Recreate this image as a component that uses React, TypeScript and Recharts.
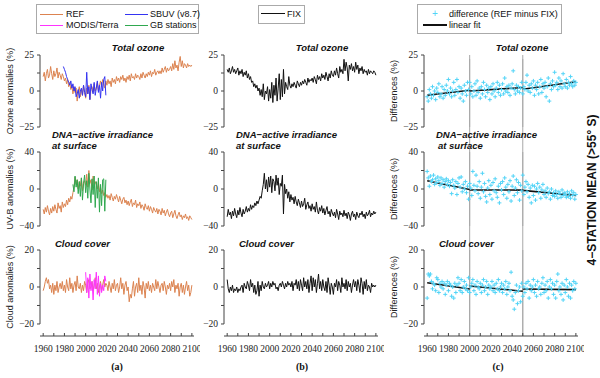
import React from "react";
import { ComposedChart, Line, Scatter, XAxis, YAxis, ReferenceLine } from "recharts";

const FIRST_YEAR = 1960;
const X_DOMAIN: [number, number] = [1957, 2102];
const X_TICKS = [1960, 1970, 1980, 1990, 2000, 2010, 2020, 2030, 2040, 2050, 2060, 2070, 2080, 2090, 2100];
const X_LABELED = [1960, 1980, 2000, 2020, 2040, 2060, 2080, 2100];
const PERIOD_LINES = [2000, 2050];

// yearly values 1960..2100 (one row per decade)
const refOzone = [
  10, 13, 7, 12, 15, 9, 11, 17, 12, 8,
  14, 10, 12, 16, 9, 13, 11, 8, 12, 10,
  7, 9, 5, 8, 3, 6, 1, 4, -2, 3,
  -1, 2, -7, 0, 3, -4, 1, -3, 4, -1,
  -5, 2, -2, 4, -6, 1, 3, -1, 5, 0,
  2, 6, 0, 4, 7, 3, 8, 5, 2, 7,
  4, 8, 5, 7, 3, 9, 6, 8, 5, 10,
  7, 9, 6, 10, 8, 11, 7, 9, 6, 10,
  8, 11, 7, 12, 9, 10, 8, 12, 9, 11,
  10, 8, 12, 9, 13, 11, 9, 12, 10, 13,
  11, 14, 10, 13, 12, 15, 11, 13, 14, 12,
  14, 12, 16, 13, 15, 17, 13, 16, 14, 15,
  17, 14, 19, 15, 21, 16, 18, 14, 20, 24,
  17, 21, 16, 19, 18, 16, 19, 17, 18, 17, 18,
];
const fixOzone = [
  15, 13, 16, 12, 14, 17, 13, 15, 12, 14,
  16, 11, 14, 12, 15, 10, 13, 11, 14, 9,
  12, 8, 10, 6, 7, 3, 5, 2, 4, 0,
  2, -3, 1, -4, 5, -6, 0, -2, 3, -7,
  1, -5, 6, -8, 4, -3, 9, -7, 2, 12,
  -6, 8, -4, 15, -2, 6, 3, 1, 10, 4,
  2, 5, 3, 6, 4, 2, 7, 5, 3, 6,
  4, 7, 5, 8, 6, 4, 9, 6, 8, 7,
  9, 6, 10, 8, 5, 11, 8, 10, 7, 12,
  9, 11, 8, 13, 10, 7, 12, 9, 14, 11,
  10, 14, 11, 16, 12, 9, 17, 13, 15, 12,
  22, 14, 20, 16, 7, 18, 15, 19, 14, 17,
  13, 20, 15, 18, 12, 16, 14, 17, 12, 15,
  13, 14, 11, 15, 12, 14, 13, 12, 14, 13, 11,
];
const diffOzone = [
  -4, -7, 1, -2, -5, 3, -3, 0, -6, 2,
  -1, 5, -4, -2, 3, -5, 1, -3, 4, 0,
  8, -2, 2, -4, 0, 6, -3, 1, 8, -1,
  3, -5, 2, -2, -7, 4, 0, -3, 6, 1,
  6, -2, 3, -4, 0, 5, -3, 7, -1, 2,
  -5, 3, -2, 6, 1, -4, 4, -1, 2, -6,
  3, -2, 5, 0, -4, 2, 6, -1, 4, -3,
  1, 5, -2, 9, 0, 3, -1, 4, -3, 2,
  5, 14, 1, -2, 4, 0, 3, -1, 2, 6,
  -2, 3, 1, 6, 11, 0, 4, -1, 5, 2,
  7, -3, 4, 1, 6, -2, 3, 8, -1, 5,
  2, 6, -4, 3, 9, -7, 5, 1, 7, 3,
  13, 4, 6, 1, 9, 3, 7, 2, 12, 5,
  3, 8, 2, 6, 4, 10, 5, 3, 7, 4, 6,
];
const SBUV_START = 1979;
const sbuvOzone = [
  17, 15, 13, 10, 8, 6, 4, 7, 2, 5, 0,
  3, -4, -2, 1, -5, 0, 2, -3, 4, -1,
  -4, 13, -2, 3, -6, 5, 1, -2, 6, -3,
  2, 7, -1, 4, -5, 6, 0, 8, 10, -3,
];

const refUv = [
  -22, -27, -20, -25, -18, -24, -28, -21, -26, -19,
  -24, -17, -22, -26, -15, -21, -18, -25, -14, -20,
  -16, -19, -12, -17, -10, -14, -8, -11, -4, 2,
  13, 5, 10, 0, 8, 3, 12, -2, 7, 9,
  4, 16, 2, 20, 6, 10, -1, 14, 3, 8,
  5, 0, 7, -3, 2, -5, -1, -7, -4, -9,
  -6, -10, -7, -12, -5, -9, -13, -8, -11, -6,
  -10, -14, -8, -12, -16, -11, -9, -15, -12, -17,
  -13, -18, -14, -11, -19, -15, -17, -12, -20, -16,
  -18, -14, -21, -17, -19, -23, -16, -20, -22, -18,
  -24, -19, -22, -26, -20, -23, -25, -21, -27, -22,
  -24, -28, -21, -26, -23, -29, -25, -22, -27, -30,
  -26, -24, -31, -27, -23, -29, -32, -28, -25, -30,
  -28, -33, -29, -31, -27, -32, -30, -34, -29, -31, -33,
];
const fixUv = [
  -30, -22, -28, -25, -32, -24, -29, -21, -27, -31,
  -23, -28, -20, -26, -30, -22, -27, -24, -19, -25,
  -21, -24, -17, -22, -18, -20, -15, -18, -13, -16,
  -12, -8, -10, -2, 5, 17, 0, 10, -3, 13,
  2, 14, -4, 11, 8, -2, 15, 4, 12, -6,
  6, 3, 15, -27, 5, -5, 0, -10, -3, -14,
  -6, -12, -9, -16, -8, -14, -18, -11, -15, -20,
  -13, -19, -16, -10, -22, -17, -14, -21, -18, -24,
  -16, -22, -19, -25, -14, -23, -27, -20, -24, -18,
  -26, -21, -28, -23, -19, -27, -24, -30, -22, -26,
  -29, -25, -31, -22, -27, -33, -24, -28, -26, -30,
  -23, -29, -26, -32, -25, -28, -34, -27, -24, -30,
  -27, -33, -25, -29, -31, -26, -28, -24, -30, -27,
  -32, -25, -29, -27, -23, -30, -26, -28, -24, -27, -25,
];
const diffUv = [
  19, 12, 3, 14, 8, 10, 15, 5, 11, 7,
  13, 9, 4, 12, 6, 10, 2, 8, 11, 5,
  9, 3, 7, -5, 10, 4, 1, 8, -6, 6,
  12, 2, 13, -3, 5, 0, 8, -4, 3, -11,
  6, 1, -7, 19, 4, -2, 15, 3, -5, 8,
  -10, 2, 17, -3, 6, -8, -14, 1, 9, -6,
  4, -11, 7, -2, 11, -4, -9, 3, -15, 6,
  -1, 8, -6, 12, 2, -10, 5, -3, 9, -13,
  3, 14, -7, 1, 10, -4, 7, -12, 4, -2,
  15, -6, 2, 8, -3, 5, -9, 1, -15, 4,
  -7, 3, -12, 0, 6, -4, 2, -10, -1, 5,
  -6, -2, -9, 1, -5, -3, -11, 0, -7, -4,
  -8, -2, -6, -10, -3, -5, -9, -1, -7, -4,
  -6, -9, -3, -8, -5, -10, -2, -7, -4, -11, -6,
];
const GB_START = 1988;
const gbUv = [
  5, -3, 14, 2, 10, -5, 8, -8, 12, -12, 6, 15,
  -4, 9, -10, 17, 0, -15, 11, -6, 14, -20,
  8, -10, 12, -25, 5, -18, 10, 11, -24, 10,
];

const refCloud = [
  -2, 0, 3, 5, 2, 4, -1, 1, -3, 2,
  -4, 1, -2, 3, -3, 0, 2, -1, 3, -2,
  1, -3, 4, 0, -2, 5, -1, 2, -3, 1,
  3, -2, 6, 0, -1, 2, -3, 1, -2, 3,
  1, -3, 2, 4, -1, 0, 3, -2, 1, 5,
  -1, 2, -3, 0, 3, -2, 1, 4, 0, 2,
  1, -2, 3, 0, -3, 2, -1, 4, -2, 1,
  2, -3, 0, 5, -1, 2, -4, 1, 3, -2,
  0, -8, -4, -6, -1, 3, -5, 0, 2, -3,
  5, -2, 1, -4, 3, 0, -6, 2, -1, 3,
  -2, 1, -3, 2, 0, -2, 4, -1, 3, 0,
  -3, 1, 2, -2, 3, 0, -4, 1, -1, 2,
  -2, 3, 0, 4, -3, 1, -1, 2, -5, 0,
  2, -3, 1, -4, 0, 3, -2, 1, -5, -3, 1,
];
const fixCloud = [
  4, -1, -3, 0, -2, 1, -3, -1, -2, 0,
  -3, -1, -2, 0, 1, -3, 2, 0, -1, 3,
  1, -2, 4, 0, 2, -3, 1, -4, -2, 3,
  -5, 1, -2, 3, 0, -1, 2, 0, 1, 3,
  -1, 2, 0, 3, 1, 2, -1, 0, -2, 1,
  2, 0, 3, 1, -1, 2, 0, 3, 1, 2,
  0, 3, -2, 2, 1, 4, -1, 3, -2, 4,
  1, -2, 5, 0, 3, -1, 4, -3, 2, 6,
  -2, 5, 0, 4, -3, 2, 7, -1, 3, -2,
  4, 0, -2, 3, -3, 5, 1, -4, 2, 0,
  -4, 2, 0, 4, -2, 3, 1, -3, 5, 0,
  2, -1, 4, -2, 3, 0, 2, -3, 1, 4,
  0, 3, -2, 4, 1, -3, 5, 2, -4, 3,
  -1, 4, -2, 1, 0, -3, 2, 0, 1, 0, 1,
];
const diffCloud = [
  -6, 7, 6, 7, 3, -1, 2, 1, -2, 5,
  4, -3, 2, 0, 3, -1, 2, -4, 1, 3,
  -2, 2, 1, -5, 0, -6, 2, -3, 1, 5,
  2, -2, 4, -3, 0, 3, -1, 1, -2, 5,
  -3, 0, 2, 4, -2, 1, -4, 3, 0, -1,
  2, -3, 1, 4, -2, 0, 3, -4, 1, -1,
  0, 3, -2, 1, -3, 2, -1, 4, -2, 0,
  2, -3, 1, -1, 3, -4, 0, 2, -2, 8,
  -5, -7, -12, -3, 1, -9, -2, 0, -8, 2,
  -5, 0, -3, 2, -1, 3, -6, 1, -2, 0,
  4, -3, 1, -5, 3, -1, 0, -4, 2, 5,
  -3, 1, -2, 3, -6, 0, 4, -1, 2, -4,
  1, -6, 3, 7, -2, 0, -4, 2, -7, 1,
  -3, 4, 0, -5, 2, -6, 1, -2, 3, -1, 2,
];
const MODIS_START = 2000;
const modisCloud = [8, -3, 5, -6, 7, -2, 3, -7, 4, -1, 8, -4, 6, -5, 2, -3, 1, -2, 6, 3];

// piecewise linear fits: [start, end] value for each period
const FIT_BREAKS = [1960, 2000, 2050, 2100];
const fitOzone = [[-3, 0.5], [0, 2.4], [1.2, 6.4]];
const fitUv = [[9, -0.5], [-1, -1.2], [-1.5, -7]];
const fitCloud = [[2.3, -1.1], [0.5, -2.3], [-1.1, -1.4]];

const REF_C = "#dc8350";
const SBUV_C = "#3434f2";
const MODIS_C = "#ff33ff";
const GB_C = "#2fa84f";
const DIFF_C = "#52d4f7";
const SEP_C = "#a8a8a8";
const AXIS_C = "#444";
const SANS = "'Liberation Sans', Arial, sans-serif";
const SERIF = "'Liberation Serif', 'Times New Roman', serif";

const years = refOzone.map((_, i) => FIRST_YEAR + i);

function pick(arr: number[], start: number, year: number) {
  const j = year - start;
  return j >= 0 && j < arr.length ? arr[j] : null;
}

const ozoneRows = years.map((year) => ({
  year,
  ref: pick(refOzone, FIRST_YEAR, year),
  fix: pick(fixOzone, FIRST_YEAR, year),
  diff: pick(diffOzone, FIRST_YEAR, year),
  obs: pick(sbuvOzone, SBUV_START, year),
}));
const uvRows = years.map((year) => ({
  year,
  ref: pick(refUv, FIRST_YEAR, year),
  fix: pick(fixUv, FIRST_YEAR, year),
  diff: pick(diffUv, FIRST_YEAR, year),
  obs: pick(gbUv, GB_START, year),
}));
const cloudRows = years.map((year) => ({
  year,
  ref: pick(refCloud, FIRST_YEAR, year),
  fix: pick(fixCloud, FIRST_YEAR, year),
  diff: pick(diffCloud, FIRST_YEAR, year),
  obs: pick(modisCloud, MODIS_START, year),
}));

const segments = (fit: number[][]) =>
  fit.map((pair, s) => [
    { year: FIT_BREAKS[s], fit: pair[0] },
    { year: FIT_BREAKS[s + 1], fit: pair[1] },
  ]);

const fmt = (v: number) => (v < 0 ? "\u2212" + Math.abs(v) : String(v));

const ROWS = [
  { top: 55, h: 72, domain: [-25, 25] as [number, number], ticks: [-25, -12.5, 0, 12.5, 25], labeled: [-25, 0, 25] },
  { top: 152, h: 74, domain: [-40, 40] as [number, number], ticks: [-40, -20, 0, 20, 40], labeled: [-40, 0, 40] },
  { top: 250, h: 86, domain: [-26.5, 20] as [number, number], ticks: [-20, -10, 0, 10, 20], labeled: [-20, 0, 20] },
];
const COLS = [40, 224, 424];
const SEP_TOP = 59;
const SEP_BOTTOM = 336;

const PlusMark = (p: any) => {
  const { cx, cy } = p;
  if (cx == null || cy == null) return <g />;
  return <path d={`M${cx - 2},${cy}H${cx + 2}M${cx},${cy - 2}V${cy + 2}`} stroke={DIFF_C} strokeWidth={1} />;
};

const XTick = ({ x, y, payload }: any) => (
  <g>
    <line x1={x} x2={x} y1={y} y2={y - 3} stroke={AXIS_C} />
    {X_LABELED.includes(payload.value) && (
      <text x={x} y={y + 16} textAnchor="middle" fontSize={9.5} fontFamily={SERIF} fill="#222">
        {payload.value}
      </text>
    )}
  </g>
);

function Panel({ col, row, data, children }: { col: number; row: number; data: any[]; children: React.ReactNode }) {
  const r = ROWS[row];
  const bottom = row === 2;
  const YTick = ({ x, y, payload }: any) =>
    r.labeled.includes(payload.value) ? (
      <text x={x} y={y} dy={3} textAnchor="end" fontSize={9.5} fontFamily={SERIF} fill="#222">
        {fmt(payload.value)}
      </text>
    ) : (
      <g />
    );
  return (
    <div style={{ position: "absolute", left: COLS[col] - 40, top: r.top - 6 }}>
      <ComposedChart
        width={200}
        height={6 + r.h + (bottom ? 30 : 6)}
        data={data}
        margin={{ top: 6, right: 6, bottom: 6, left: 0 }}
      >
        <XAxis
          type="number"
          dataKey="year"
          domain={X_DOMAIN}
          ticks={X_TICKS}
          interval={0}
          allowDataOverflow
          hide={!bottom}
          height={24}
          stroke={AXIS_C}
          tickLine={false}
          tickSize={0}
          tickMargin={0}
          tick={<XTick />}
        />
        <YAxis
          type="number"
          width={40}
          domain={r.domain}
          ticks={r.ticks}
          interval={0}
          allowDataOverflow
          axisLine={!bottom}
          stroke={AXIS_C}
          tickSize={3}
          tickMargin={3}
          tick={<YTick />}
        />
        {bottom && (
          <ReferenceLine
            segment={[
              { x: X_DOMAIN[0], y: -20 },
              { x: X_DOMAIN[0], y: 20 },
            ]}
            stroke={AXIS_C}
          />
        )}
        {col === 2 &&
          PERIOD_LINES.map((yr) => <ReferenceLine key={yr} x={yr} stroke={SEP_C} strokeWidth={1} />)}
        {children}
      </ComposedChart>
    </div>
  );
}

// grey period separators running down the whole of column c (also across the gaps)
function Separators() {
  const guide = [
    { year: FIRST_YEAR, v: 0.5 },
    { year: 2100, v: 0.5 },
  ];
  return (
    <div style={{ position: "absolute", left: COLS[2] - 40, top: SEP_TOP, pointerEvents: "none" }}>
      <ComposedChart width={200} height={SEP_BOTTOM - SEP_TOP} data={guide} margin={{ top: 0, right: 6, bottom: 0, left: 0 }}>
        <XAxis type="number" dataKey="year" domain={X_DOMAIN} allowDataOverflow hide />
        <YAxis type="number" width={40} domain={[0, 1]} allowDataOverflow axisLine={false} tickLine={false} tick={false} />
        <Line dataKey="v" stroke="none" dot={false} isAnimationActive={false} />
        {PERIOD_LINES.map((yr) => (
          <ReferenceLine
            key={yr}
            segment={[
              { x: yr, y: 0 },
              { x: yr, y: 1 },
            ]}
            stroke={SEP_C}
            strokeWidth={1}
          />
        ))}
      </ComposedChart>
    </div>
  );
}

const refLine = <Line dataKey="ref" stroke={REF_C} strokeWidth={1} dot={false} isAnimationActive={false} />;
const fixLine = <Line dataKey="fix" stroke="#111" strokeWidth={1} dot={false} isAnimationActive={false} />;
const obsLine = (color: string) => (
  <Line dataKey="obs" stroke={color} strokeWidth={1} dot={false} isAnimationActive={false} />
);
const diffPanel = (fit: number[][]) => (
  <>
    <Scatter dataKey="diff" shape={<PlusMark />} isAnimationActive={false} />
    {segments(fit).map((seg, i) => (
      <Line key={i} data={seg} dataKey="fit" stroke="#111" strokeWidth={1.6} dot={false} isAnimationActive={false} />
    ))}
  </>
);

function Txt({ x, y, children, style, anchor = "left" }: any) {
  const tx = anchor === "center" ? "-50%" : "0";
  return (
    <div
      style={{
        position: "absolute",
        left: x,
        top: y,
        transform: `translate(${tx}, -50%)`,
        whiteSpace: "nowrap",
        fontFamily: SANS,
        fontSize: 9,
        lineHeight: 1,
        color: "#111",
        ...style,
      }}
    >
      {children}
    </div>
  );
}

function VLabel({ x, y, children, style }: any) {
  return (
    <div
      style={{
        position: "absolute",
        left: x,
        top: y,
        transform: "translate(-50%, -50%) rotate(-90deg)",
        whiteSpace: "nowrap",
        fontFamily: SANS,
        fontSize: 9,
        lineHeight: 1,
        color: "#222",
        ...style,
      }}
    >
      {children}
    </div>
  );
}

const LegendLine = ({ x, y, w, color, h = 1 }: any) => (
  <div style={{ position: "absolute", left: x, top: y - h / 2, width: w, height: h, background: color }} />
);

const box = (left: number, top: number, width: number, height: number) => (
  <div style={{ position: "absolute", left, top, width, height, border: "1px solid #aaa", background: "#fff" }} />
);

const TITLE = { fontWeight: "bold", fontStyle: "italic", fontSize: 9.5 };
const CAPTION = { fontFamily: SERIF, fontWeight: "bold", fontSize: 10 };

export default function App() {
  const rowCenters = ROWS.map((r, i) => (i === 2 ? r.top + 37 : r.top + r.h / 2));
  return (
    <div style={{ position: "absolute", left: 0, top: 0, width: 600, height: 378, background: "#fff", overflow: "hidden" }}>
      <Separators />

      <Panel col={0} row={0} data={ozoneRows}>
        {refLine}
        {obsLine(SBUV_C)}
      </Panel>
      <Panel col={0} row={1} data={uvRows}>
        {refLine}
        {obsLine(GB_C)}
      </Panel>
      <Panel col={0} row={2} data={cloudRows}>
        {refLine}
        {obsLine(MODIS_C)}
      </Panel>

      <Panel col={1} row={0} data={ozoneRows}>{fixLine}</Panel>
      <Panel col={1} row={1} data={uvRows}>{fixLine}</Panel>
      <Panel col={1} row={2} data={cloudRows}>{fixLine}</Panel>

      <Panel col={2} row={0} data={ozoneRows}>{diffPanel(fitOzone)}</Panel>
      <Panel col={2} row={1} data={uvRows}>{diffPanel(fitUv)}</Panel>
      <Panel col={2} row={2} data={cloudRows}>{diffPanel(fitCloud)}</Panel>

      {/* panel titles */}
      {COLS.map((ax, c) => (
        <React.Fragment key={c}>
          <Txt x={ax + 98} y={48} anchor="center" style={TITLE}>Total ozone</Txt>
          <Txt x={ax + 12} y={135} style={TITLE}>DNA{"\u2212"}active irradiance</Txt>
          <Txt x={ax + 12 + (c === 2 ? 2 : 0)} y={146} style={TITLE}>at surface</Txt>
          <Txt x={ax + 15} y={244} style={TITLE}>Cloud cover</Txt>
        </React.Fragment>
      ))}

      {/* y axis labels */}
      <VLabel x={10} y={rowCenters[0]}>Ozone anomalies (%)</VLabel>
      <VLabel x={10} y={rowCenters[1]}>UV-B anomalies (%)</VLabel>
      <VLabel x={10} y={rowCenters[2]}>Cloud anomalies (%)</VLabel>
      {rowCenters.map((cy, i) => (
        <VLabel key={i} x={394} y={cy}>Differences (%)</VLabel>
      ))}

      {/* legends */}
      {box(36, 4, 161, 28)}
      <LegendLine x={40} y={14} w={23} color={REF_C} />
      <Txt x={66} y={14}>REF</Txt>
      <LegendLine x={125} y={14} w={23} color={SBUV_C} />
      <Txt x={150} y={14}>SBUV (v8.7)</Txt>
      <LegendLine x={40} y={25} w={23} color={MODIS_C} />
      <Txt x={66} y={25}>MODIS/Terra</Txt>
      <LegendLine x={125} y={25} w={23} color={GB_C} />
      <Txt x={150} y={25}>GB stations</Txt>

      {box(258, 5, 45, 17)}
      <LegendLine x={261} y={13.5} w={24} color="#111" />
      <Txt x={287} y={13.5}>FIX</Txt>

      {box(417, 4, 143, 28)}
      <Txt x={435} y={14} anchor="center" style={{ color: DIFF_C, fontSize: 10 }}>+</Txt>
      <Txt x={449} y={14}>difference (REF minus FIX)</Txt>
      <LegendLine x={423} y={25} w={24} color="#111" h={1.5} />
      <Txt x={449} y={25}>linear fit</Txt>

      {/* column captions */}
      <Txt x={117} y={367} anchor="center" style={CAPTION}>(a)</Txt>
      <Txt x={302} y={367} anchor="center" style={CAPTION}>(b)</Txt>
      <Txt x={498} y={367} anchor="center" style={CAPTION}>(c)</Txt>

      <VLabel x={592} y={190} style={{ fontWeight: "bold", fontSize: 12, color: "#111" }}>
        4{"\u2212"}STATION MEAN ({">"}55° S)
      </VLabel>
    </div>
  );
}
